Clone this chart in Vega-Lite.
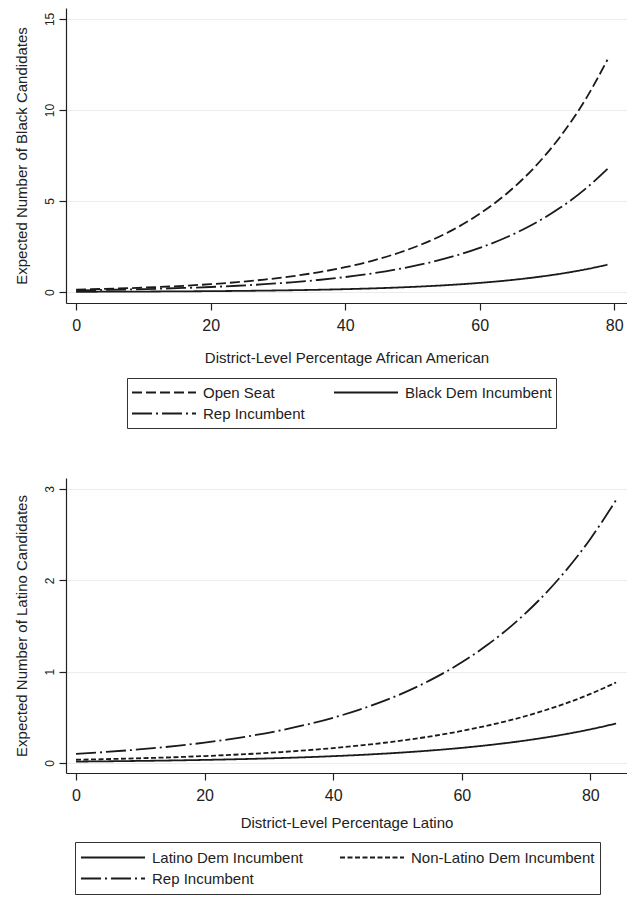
{
  "$schema": "https://vega.github.io/schema/vega-lite/v6.json",
  "padding": {"left": 14, "top": 8, "right": 0, "bottom": 0},
  "background": "white",
  "config": {
    "font": "Liberation Sans",
    "view": {"stroke": null},
    "line": {"color": "#1a1a1a", "strokeWidth": 1.8, "interpolate": "monotone"},
    "axis": {
      "domainColor": "#222222",
      "tickColor": "#222222",
      "labelColor": "#222222",
      "titleColor": "#222222",
      "labelFont": "Liberation Sans",
      "titleFont": "Liberation Sans",
      "labelFontSize": 16,
      "titleFontSize": 15,
      "titleFontWeight": "normal",
      "tickSize": 7,
      "domainWidth": 1.2,
      "tickWidth": 1.2,
      "gridColor": "#ececec",
      "gridWidth": 1
    },
    "axisX": {"grid": false, "labelPadding": 7},
    "axisY": {
      "grid": true,
      "labelAngle": -90,
      "labelAlign": "center",
      "labelBaseline": "bottom",
      "labelFontSize": 12,
      "labelPadding": 3,
      "titlePadding": 14
    },
    "legend": {
      "labelFont": "Liberation Sans",
      "labelFontSize": 15,
      "labelColor": "#222222",
      "labelLimit": 0,
      "strokeColor": "#333333",
      "symbolType": "stroke",
      "symbolSize": 4096,
      "symbolOffset": 0,
      "symbolStrokeWidth": 1.8,
      "symbolStrokeColor": "#1a1a1a",
      "clipHeight": 21,
      "labelOffset": 6,
      "rowPadding": 0,
      "title": null
    }
  },
  "datasets": {
    "black": [
      {"pct": 0, "expected": 0.138, "type": "Open Seat"},
      {"pct": 4, "expected": 0.1736, "type": "Open Seat"},
      {"pct": 8, "expected": 0.2183, "type": "Open Seat"},
      {"pct": 12, "expected": 0.2745, "type": "Open Seat"},
      {"pct": 16, "expected": 0.3452, "type": "Open Seat"},
      {"pct": 20, "expected": 0.4341, "type": "Open Seat"},
      {"pct": 24, "expected": 0.546, "type": "Open Seat"},
      {"pct": 28, "expected": 0.6866, "type": "Open Seat"},
      {"pct": 32, "expected": 0.8635, "type": "Open Seat"},
      {"pct": 36, "expected": 1.086, "type": "Open Seat"},
      {"pct": 40, "expected": 1.3657, "type": "Open Seat"},
      {"pct": 44, "expected": 1.7175, "type": "Open Seat"},
      {"pct": 48, "expected": 2.16, "type": "Open Seat"},
      {"pct": 52, "expected": 2.7164, "type": "Open Seat"},
      {"pct": 56, "expected": 3.4162, "type": "Open Seat"},
      {"pct": 60, "expected": 4.2963, "type": "Open Seat"},
      {"pct": 64, "expected": 5.403, "type": "Open Seat"},
      {"pct": 68, "expected": 6.7948, "type": "Open Seat"},
      {"pct": 72, "expected": 8.5452, "type": "Open Seat"},
      {"pct": 76, "expected": 10.7465, "type": "Open Seat"},
      {"pct": 79, "expected": 12.76, "type": "Open Seat"},
      {"pct": 0, "expected": 0.095, "type": "Rep Incumbent"},
      {"pct": 4, "expected": 0.1179, "type": "Rep Incumbent"},
      {"pct": 8, "expected": 0.1463, "type": "Rep Incumbent"},
      {"pct": 12, "expected": 0.1816, "type": "Rep Incumbent"},
      {"pct": 16, "expected": 0.2254, "type": "Rep Incumbent"},
      {"pct": 20, "expected": 0.2798, "type": "Rep Incumbent"},
      {"pct": 24, "expected": 0.3472, "type": "Rep Incumbent"},
      {"pct": 28, "expected": 0.431, "type": "Rep Incumbent"},
      {"pct": 32, "expected": 0.5349, "type": "Rep Incumbent"},
      {"pct": 36, "expected": 0.6638, "type": "Rep Incumbent"},
      {"pct": 40, "expected": 0.8239, "type": "Rep Incumbent"},
      {"pct": 44, "expected": 1.0226, "type": "Rep Incumbent"},
      {"pct": 48, "expected": 1.2691, "type": "Rep Incumbent"},
      {"pct": 52, "expected": 1.5751, "type": "Rep Incumbent"},
      {"pct": 56, "expected": 1.9549, "type": "Rep Incumbent"},
      {"pct": 60, "expected": 2.4262, "type": "Rep Incumbent"},
      {"pct": 64, "expected": 3.0112, "type": "Rep Incumbent"},
      {"pct": 68, "expected": 3.7372, "type": "Rep Incumbent"},
      {"pct": 72, "expected": 4.6383, "type": "Rep Incumbent"},
      {"pct": 76, "expected": 5.7566, "type": "Rep Incumbent"},
      {"pct": 79, "expected": 6.769, "type": "Rep Incumbent"},
      {"pct": 0, "expected": 0.016, "type": "Black Dem Incumbent"},
      {"pct": 4, "expected": 0.0201, "type": "Black Dem Incumbent"},
      {"pct": 8, "expected": 0.0253, "type": "Black Dem Incumbent"},
      {"pct": 12, "expected": 0.0319, "type": "Black Dem Incumbent"},
      {"pct": 16, "expected": 0.0402, "type": "Black Dem Incumbent"},
      {"pct": 20, "expected": 0.0505, "type": "Black Dem Incumbent"},
      {"pct": 24, "expected": 0.0636, "type": "Black Dem Incumbent"},
      {"pct": 28, "expected": 0.0801, "type": "Black Dem Incumbent"},
      {"pct": 32, "expected": 0.1008, "type": "Black Dem Incumbent"},
      {"pct": 36, "expected": 0.1268, "type": "Black Dem Incumbent"},
      {"pct": 40, "expected": 0.1596, "type": "Black Dem Incumbent"},
      {"pct": 44, "expected": 0.2009, "type": "Black Dem Incumbent"},
      {"pct": 48, "expected": 0.2529, "type": "Black Dem Incumbent"},
      {"pct": 52, "expected": 0.3183, "type": "Black Dem Incumbent"},
      {"pct": 56, "expected": 0.4006, "type": "Black Dem Incumbent"},
      {"pct": 60, "expected": 0.5042, "type": "Black Dem Incumbent"},
      {"pct": 64, "expected": 0.6346, "type": "Black Dem Incumbent"},
      {"pct": 68, "expected": 0.7987, "type": "Black Dem Incumbent"},
      {"pct": 72, "expected": 1.0052, "type": "Black Dem Incumbent"},
      {"pct": 76, "expected": 1.2652, "type": "Black Dem Incumbent"},
      {"pct": 79, "expected": 1.503, "type": "Black Dem Incumbent"}
    ],
    "latino": [
      {"pct": 0, "expected": 0.1, "type": "Rep Incumbent"},
      {"pct": 4, "expected": 0.1174, "type": "Rep Incumbent"},
      {"pct": 8, "expected": 0.1377, "type": "Rep Incumbent"},
      {"pct": 12, "expected": 0.1616, "type": "Rep Incumbent"},
      {"pct": 16, "expected": 0.1896, "type": "Rep Incumbent"},
      {"pct": 20, "expected": 0.2226, "type": "Rep Incumbent"},
      {"pct": 24, "expected": 0.2612, "type": "Rep Incumbent"},
      {"pct": 28, "expected": 0.3065, "type": "Rep Incumbent"},
      {"pct": 32, "expected": 0.3597, "type": "Rep Incumbent"},
      {"pct": 36, "expected": 0.4221, "type": "Rep Incumbent"},
      {"pct": 40, "expected": 0.4953, "type": "Rep Incumbent"},
      {"pct": 44, "expected": 0.5812, "type": "Rep Incumbent"},
      {"pct": 48, "expected": 0.6821, "type": "Rep Incumbent"},
      {"pct": 52, "expected": 0.8004, "type": "Rep Incumbent"},
      {"pct": 56, "expected": 0.9393, "type": "Rep Incumbent"},
      {"pct": 60, "expected": 1.1023, "type": "Rep Incumbent"},
      {"pct": 64, "expected": 1.2935, "type": "Rep Incumbent"},
      {"pct": 68, "expected": 1.518, "type": "Rep Incumbent"},
      {"pct": 72, "expected": 1.7814, "type": "Rep Incumbent"},
      {"pct": 76, "expected": 2.0905, "type": "Rep Incumbent"},
      {"pct": 80, "expected": 2.4532, "type": "Rep Incumbent"},
      {"pct": 84, "expected": 2.8789, "type": "Rep Incumbent"},
      {"pct": 0, "expected": 0.035, "type": "Non-Latino Dem Incumbent"},
      {"pct": 4, "expected": 0.0408, "type": "Non-Latino Dem Incumbent"},
      {"pct": 8, "expected": 0.0476, "type": "Non-Latino Dem Incumbent"},
      {"pct": 12, "expected": 0.0555, "type": "Non-Latino Dem Incumbent"},
      {"pct": 16, "expected": 0.0647, "type": "Non-Latino Dem Incumbent"},
      {"pct": 20, "expected": 0.0754, "type": "Non-Latino Dem Incumbent"},
      {"pct": 24, "expected": 0.088, "type": "Non-Latino Dem Incumbent"},
      {"pct": 28, "expected": 0.1026, "type": "Non-Latino Dem Incumbent"},
      {"pct": 32, "expected": 0.1196, "type": "Non-Latino Dem Incumbent"},
      {"pct": 36, "expected": 0.1395, "type": "Non-Latino Dem Incumbent"},
      {"pct": 40, "expected": 0.1626, "type": "Non-Latino Dem Incumbent"},
      {"pct": 44, "expected": 0.1896, "type": "Non-Latino Dem Incumbent"},
      {"pct": 48, "expected": 0.2211, "type": "Non-Latino Dem Incumbent"},
      {"pct": 52, "expected": 0.2578, "type": "Non-Latino Dem Incumbent"},
      {"pct": 56, "expected": 0.3006, "type": "Non-Latino Dem Incumbent"},
      {"pct": 60, "expected": 0.3505, "type": "Non-Latino Dem Incumbent"},
      {"pct": 64, "expected": 0.4087, "type": "Non-Latino Dem Incumbent"},
      {"pct": 68, "expected": 0.4766, "type": "Non-Latino Dem Incumbent"},
      {"pct": 72, "expected": 0.5557, "type": "Non-Latino Dem Incumbent"},
      {"pct": 76, "expected": 0.648, "type": "Non-Latino Dem Incumbent"},
      {"pct": 80, "expected": 0.7556, "type": "Non-Latino Dem Incumbent"},
      {"pct": 84, "expected": 0.881, "type": "Non-Latino Dem Incumbent"},
      {"pct": 0, "expected": 0.015, "type": "Latino Dem Incumbent"},
      {"pct": 4, "expected": 0.0176, "type": "Latino Dem Incumbent"},
      {"pct": 8, "expected": 0.0207, "type": "Latino Dem Incumbent"},
      {"pct": 12, "expected": 0.0242, "type": "Latino Dem Incumbent"},
      {"pct": 16, "expected": 0.0284, "type": "Latino Dem Incumbent"},
      {"pct": 20, "expected": 0.0334, "type": "Latino Dem Incumbent"},
      {"pct": 24, "expected": 0.0392, "type": "Latino Dem Incumbent"},
      {"pct": 28, "expected": 0.046, "type": "Latino Dem Incumbent"},
      {"pct": 32, "expected": 0.054, "type": "Latino Dem Incumbent"},
      {"pct": 36, "expected": 0.0633, "type": "Latino Dem Incumbent"},
      {"pct": 40, "expected": 0.0743, "type": "Latino Dem Incumbent"},
      {"pct": 44, "expected": 0.0872, "type": "Latino Dem Incumbent"},
      {"pct": 48, "expected": 0.1023, "type": "Latino Dem Incumbent"},
      {"pct": 52, "expected": 0.1201, "type": "Latino Dem Incumbent"},
      {"pct": 56, "expected": 0.1409, "type": "Latino Dem Incumbent"},
      {"pct": 60, "expected": 0.1653, "type": "Latino Dem Incumbent"},
      {"pct": 64, "expected": 0.194, "type": "Latino Dem Incumbent"},
      {"pct": 68, "expected": 0.2277, "type": "Latino Dem Incumbent"},
      {"pct": 72, "expected": 0.2672, "type": "Latino Dem Incumbent"},
      {"pct": 76, "expected": 0.3136, "type": "Latino Dem Incumbent"},
      {"pct": 80, "expected": 0.368, "type": "Latino Dem Incumbent"},
      {"pct": 84, "expected": 0.4318, "type": "Latino Dem Incumbent"}
    ]
  },
  "bounds": "flush",
  "spacing": 175,
  "resolve": {
    "scale": {"strokeDash": "independent", "x": "independent", "y": "independent"},
    "legend": {"strokeDash": "independent"}
  },
  "vconcat": [
    {
      "width": 561,
      "height": 295,
      "data": {"name": "black"},
      "mark": {"type": "line"},
      "encoding": {
        "x": {
          "field": "pct",
          "type": "quantitative",
          "title": "District-Level Percentage African American",
          "scale": {"domain": [-1.5, 81.9], "nice": false, "zero": false},
          "axis": {"values": [0, 20, 40, 60, 80], "titlePadding": 17}
        },
        "y": {
          "field": "expected",
          "type": "quantitative",
          "title": "Expected Number of Black Candidates",
          "scale": {"domain": [-0.6, 15.6], "nice": false, "zero": false},
          "axis": {"values": [0, 5, 10, 15]}
        },
        "strokeDash": {
          "field": "type",
          "type": "nominal",
          "scale": {
            "domain": ["Open Seat", "Black Dem Incumbent", "Rep Incumbent"],
            "range": [[10, 4], [1, 0], [20, 4, 2, 4]]
          },
          "legend": {
            "orient": "none",
            "legendX": 61,
            "legendY": 370,
            "direction": "horizontal",
            "columns": 2,
            "columnPadding": 28,
            "padding": 4
          }
        }
      }
    },
    {
      "width": 561,
      "height": 295,
      "data": {"name": "latino"},
      "mark": {"type": "line"},
      "encoding": {
        "x": {
          "field": "pct",
          "type": "quantitative",
          "title": "District-Level Percentage Latino",
          "scale": {"domain": [-1.56, 85.7], "nice": false, "zero": false},
          "axis": {"values": [0, 20, 40, 60, 80], "titlePadding": 12}
        },
        "y": {
          "field": "expected",
          "type": "quantitative",
          "title": "Expected Number of Latino Candidates",
          "scale": {"domain": [-0.11, 3.12], "nice": false, "zero": false},
          "axis": {"values": [0, 1, 2, 3]}
        },
        "strokeDash": {
          "field": "type",
          "type": "nominal",
          "scale": {
            "domain": ["Latino Dem Incumbent", "Non-Latino Dem Incumbent", "Rep Incumbent"],
            "range": [[1, 0], [5, 2.5], [20, 4, 2, 4]]
          },
          "legend": {
            "orient": "none",
            "legendX": 9,
            "legendY": 364,
            "direction": "horizontal",
            "columns": 2,
            "columnPadding": 36,
            "padding": 5
          }
        }
      }
    }
  ]
}
